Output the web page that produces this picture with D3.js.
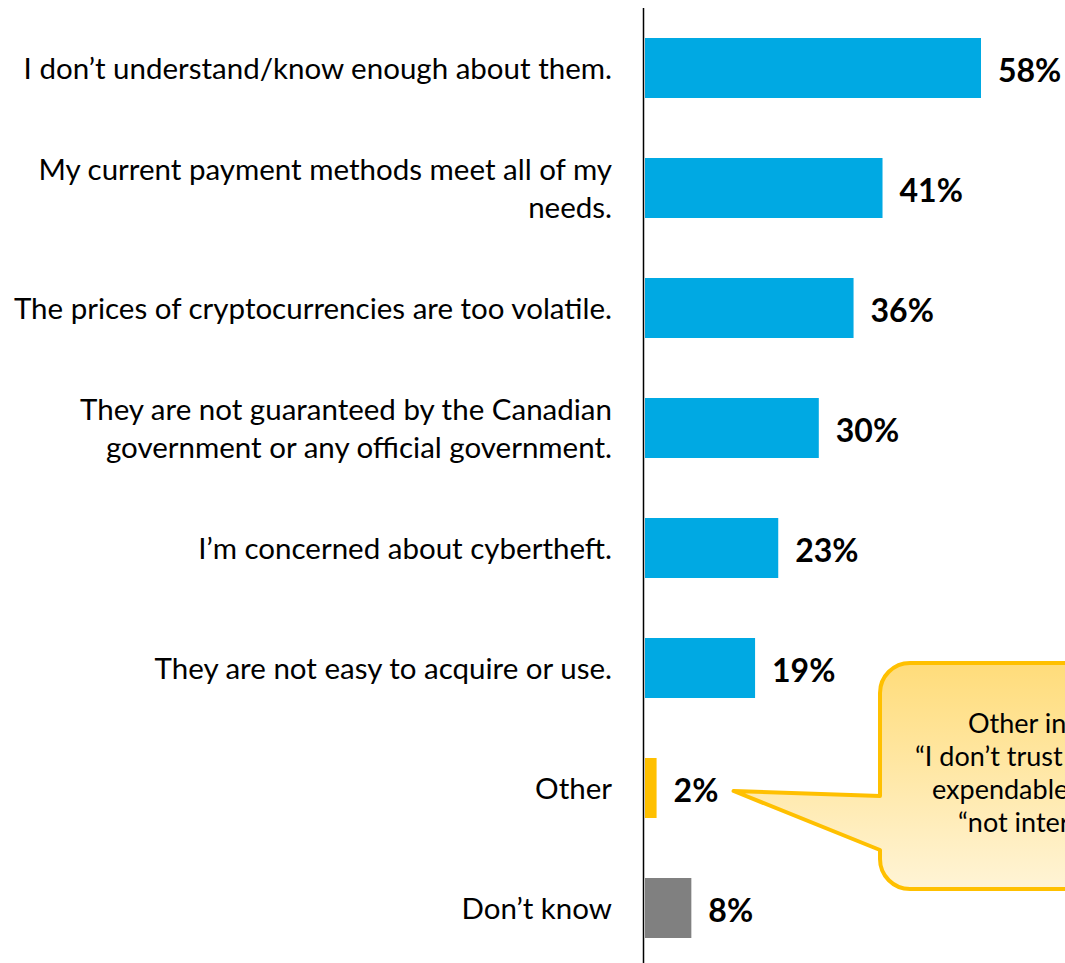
<!DOCTYPE html>
<html><head><meta charset="utf-8">
<script src="https://cdn.jsdelivr.net/npm/d3@7"></script>
<style>body{margin:0;background:#fff;overflow:hidden}svg{display:block}</style>
</head><body>
<script>
const categories = [
  ["I don’t understand/know enough about them."],
  ["My current payment methods meet all of my", "needs."],
  ["The prices of cryptocurrencies are too volatile."],
  ["They are not guaranteed by the Canadian", "government or any official government."],
  ["I’m concerned about cybertheft."],
  ["They are not easy to acquire or use."],
  ["Other"],
  ["Don’t know"]
];
const values = [58, 41, 36, 30, 23, 19, 2, 8];
const barColors = ["#00A9E3","#00A9E3","#00A9E3","#00A9E3","#00A9E3","#00A9E3","#FFC000","#808080"];
const calloutLines = ["Other includes:", "“I don’t trust them”, “no", "expendable income”, and", "“not interested”"];

const W = 1065, H = 963;
const svg = d3.select("body").append("svg").attr("width", W).attr("height", H);
const ids = categories.map((c,i)=>i);
const y = d3.scaleBand().domain(ids).range([8, 968]).paddingInner(0.5).paddingOuter(0.25);
const x = d3.scaleLinear().domain([0, 58]).range([645, 981]);
const FONT = "Lato, 'Open Sans', sans-serif";

svg.selectAll("rect.bar").data(values).join("rect")
  .attr("x", x(0)).attr("y", (d,i)=>y(i)).attr("width", d=>x(d)-x(0)).attr("height", y.bandwidth())
  .attr("fill", (d,i)=>barColors[i]);

svg.append("line").attr("x1", 643.5).attr("x2", 643.5).attr("y1", 8).attr("y2", H).attr("stroke", "#000").attr("stroke-width", 1.5);

const lab = svg.selectAll("text.cat").data(categories).join("text")
  .attr("text-anchor", "end").attr("font-family", FONT).attr("font-size", 29.5).attr("fill", "#000");
lab.each(function(lines, i){
  const t = d3.select(this);
  const cy = y(i) + y.bandwidth()/2 + 1;
  const lh = 38;
  lines.forEach((ln, k)=>{
    t.append("tspan").attr("x", 612).attr("y", cy + (k - (lines.length-1)/2)*lh).attr("dy", "0.35em").text(ln);
  });
});

svg.selectAll("text.val").data(values).join("text")
  .attr("x", d=>x(d)+17).attr("y", (d,i)=>y(i)+y.bandwidth()/2 + 3).attr("dy","0.35em")
  .attr("font-family", FONT).attr("font-weight", "bold").attr("font-size", 32).attr("fill", "#000")
  .text(d=>d+"%");

const defs = svg.append("defs");
const g = defs.append("linearGradient").attr("id","cg").attr("x1",0).attr("x2",0).attr("y1",0).attr("y2",1);
g.append("stop").attr("offset","0%").attr("stop-color","#FFDC7A");
g.append("stop").attr("offset","100%").attr("stop-color","#FFF4D6");
const L = 880, T = 663, B = 889, R = 1120, r = 30;
const tipX = x(2) + 77, tipY = y(6) + y.bandwidth()/2 + 3;
const p = d3.path();
p.moveTo(L + r, T);
p.lineTo(R - r, T);
p.arcTo(R, T, R, T + r, r);
p.lineTo(R, B - r);
p.arcTo(R, B, R - r, B, r);
p.lineTo(L + r, B);
p.arcTo(L, B, L, B - r, r);
p.lineTo(L, 850);
p.lineTo(tipX, tipY);
p.lineTo(L, 796);
p.lineTo(L, T + r);
p.arcTo(L, T, L + r, T, r);
p.closePath();
svg.append("path").attr("d", p.toString()).attr("fill", "url(#cg)").attr("stroke", "#FFC000").attr("stroke-width", 4).attr("stroke-linejoin","round");

svg.selectAll("text.call").data(calloutLines).join("text")
  .attr("x", (d,i)=>[968, 915, 932, 958][i])
  .attr("y", (d,i)=>724 + i*33).attr("dy","0.35em")
  .attr("font-family", FONT).attr("font-size", 27).attr("fill", "#000")
  .text(d=>d);
</script>
</body></html>
